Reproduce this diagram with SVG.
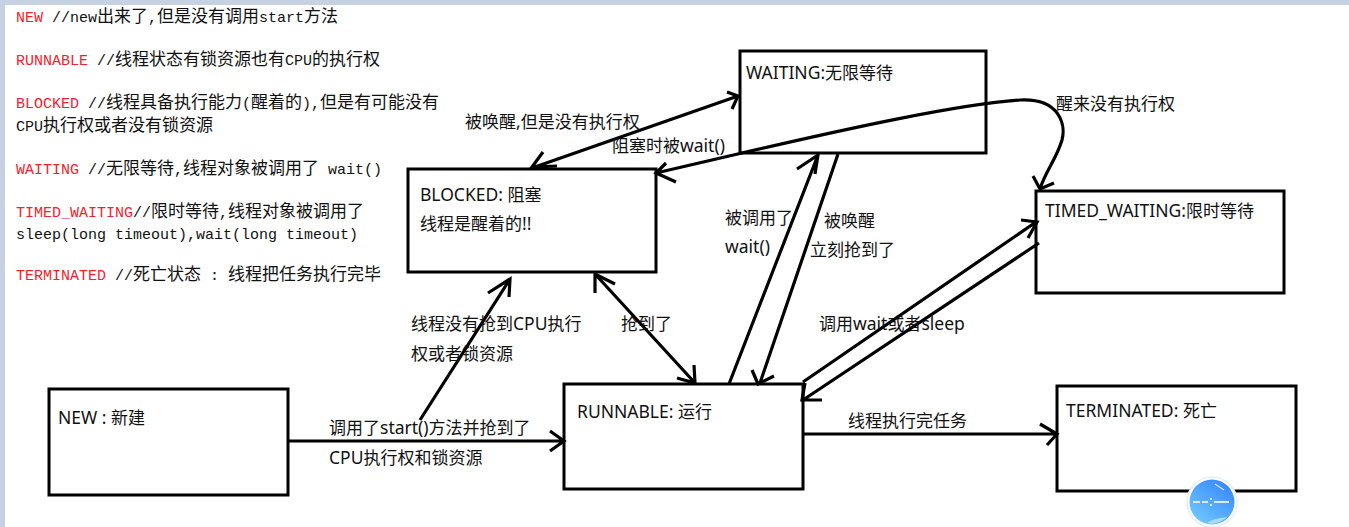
<svg xmlns="http://www.w3.org/2000/svg" width="1349" height="527" viewBox="0 0 1349 527">
<style>
.box{fill:#fff;stroke:#000;stroke-width:3}
.ln{fill:none;stroke:#000;stroke-width:3.2}
.code{font-family:"Liberation Mono","Noto Sans CJK SC",monospace;font-size:15px;fill:#111}
.code .r{fill:#f5222d}
.code .c{font-family:"Noto Sans CJK SC","Liberation Sans",sans-serif;font-size:17px}
.lbl{font-family:"Noto Sans CJK SC","Noto Sans",sans-serif;font-size:17px;fill:#111}
.lbl .l{font-family:"Noto Sans",sans-serif;font-size:17.5px}
</style>
<defs>
<linearGradient id="g" x1="0.8" y1="0.1" x2="0.2" y2="0.9"><stop offset="0" stop-color="#3a8cff"/><stop offset="1" stop-color="#6cc4ff"/></linearGradient>
</defs>
<rect width="1349" height="527" fill="#fff"/>
<rect width="1349" height="5" fill="#c6d2e4"/>
<rect width="5" height="527" fill="#c6d2e4"/>

<g id="notes" class="code">
<text y="22" x="16"><tspan class="r">NEW</tspan> //new<tspan class="c">出来了</tspan>,<tspan class="c">但是没有调用</tspan>start<tspan class="c">方法</tspan></text>
<text y="65" x="16"><tspan class="r">RUNNABLE</tspan> //<tspan class="c">线程状态有锁资源也有</tspan>CPU<tspan class="c">的执行权</tspan></text>
<text y="108" x="16"><tspan class="r">BLOCKED</tspan> //<tspan class="c">线程具备执行能力</tspan>(<tspan class="c">醒着的</tspan>),<tspan class="c">但是有可能没有</tspan></text>
<text y="131" x="16">CPU<tspan class="c">执行权或者没有锁资源</tspan></text>
<text y="174" x="16"><tspan class="r">WAITING</tspan> //<tspan class="c">无限等待</tspan>,<tspan class="c">线程对象被调用了</tspan> wait()</text>
<text y="217" x="16"><tspan class="r">TIMED_WAITING</tspan>//<tspan class="c">限时等待</tspan>,<tspan class="c">线程对象被调用了</tspan></text>
<text y="239" x="16">sleep(long timeout),wait(long timeout)</text>
<text y="280" x="16"><tspan class="r">TERMINATED</tspan> //<tspan class="c">死亡状态</tspan> : <tspan class="c">线程把任务执行完毕</tspan></text>
</g>

<g id="node-waiting"><rect class="box" x="740" y="51" width="246" height="102"/><text class="lbl" x="746" y="79"><tspan class="l">WAITING:</tspan>无限等待</text></g>
<g id="node-blocked"><rect class="box" x="408" y="169" width="248" height="103"/><text class="lbl" x="420" y="201"><tspan class="l">BLOCKED: </tspan>阻塞</text><text class="lbl" x="420" y="230">线程是醒着的<tspan class="l">!!</tspan></text></g>
<g id="node-timed"><rect class="box" x="1036" y="191" width="248" height="102"/><text class="lbl" x="1045" y="217"><tspan class="l">TIMED_WAITING:</tspan>限时等待</text></g>
<g id="node-new"><rect class="box" x="49" y="389" width="239" height="106"/><text class="lbl" x="58" y="424"><tspan class="l">NEW : </tspan>新建</text></g>
<g id="node-runnable"><rect class="box" x="564" y="384" width="239" height="105"/><text class="lbl" x="577" y="418"><tspan class="l">RUNNABLE: </tspan>运行</text></g>
<g id="node-terminated"><rect class="box" x="1057" y="386" width="239" height="105"/><text class="lbl" x="1066" y="417"><tspan class="l">TERMINATED: </tspan>死亡</text></g>

<g id="connectors">
<path class="ln" d="M288,441H563M550,431L564,441L550,451"/>
<path class="ln" d="M420,420L510,279M488,293L510,279L509,297"/>
<path class="ln" d="M595,274L695,383M595,293L595,274L615,284M677,378L695,383L694,365"/>
<path class="ln" d="M532,168L738,96M543,152L532,167L557,166M727,92L738,96L732,109"/>
<path class="ln" d="M656,173L742,153C850,128 960,104 1020,100C1060,98 1066,125 1062,140C1056,160 1046,170 1040,189M666,163L656,173L676,182M1033,176L1040,189L1054,183"/>
<path class="ln" d="M729,384L818,155M797,169L818,155L815,174"/>
<path class="ln" d="M838,154L760,383M752,370L758,384L774,376"/>
<path class="ln" d="M803,382L1036,222M1021,220L1037,222L1028,238"/>
<path class="ln" d="M1039,243L803,400M805,383L802,400L822,400"/>
<path class="ln" d="M803,434H1056M1040,424L1057,434L1047,445"/>
</g>

<g id="labels">
<text class="lbl" x="465" y="128">被唤醒<tspan class="l">,</tspan>但是没有执行权</text>
<text class="lbl" x="612" y="152">阻塞时被<tspan class="l">wait()</tspan></text>
<text class="lbl" x="1056" y="110">醒来没有执行权</text>
<text class="lbl" x="725" y="224">被调用了</text>
<text class="lbl" x="725" y="253"><tspan class="l">wait()</tspan></text>
<text class="lbl" x="824" y="227">被唤醒</text>
<text class="lbl" x="810" y="256">立刻抢到了</text>
<text class="lbl" x="411" y="330">线程没有抢到<tspan class="l">CPU</tspan>执行</text>
<text class="lbl" x="411" y="360">权或者锁资源</text>
<text class="lbl" x="621" y="330">抢到了</text>
<text class="lbl" x="819" y="330">调用<tspan class="l">wait</tspan>或者<tspan class="l">sleep</tspan></text>
<text class="lbl" x="329" y="434">调用了<tspan class="l">start()</tspan>方法并抢到了</text>
<text class="lbl" x="329" y="464"><tspan class="l">CPU</tspan>执行权和锁资源</text>
<text class="lbl" x="848" y="427">线程执行完任务</text>
</g>

<g id="badge">
<circle cx="1212" cy="502" r="25" fill="#fff" stroke="#e3eef8" stroke-width="1.5"/>
<circle cx="1212" cy="502" r="22.5" fill="url(#g)"/>
<path d="M1207,523C1214,518 1222,518 1227,517C1222,522 1214,525 1207,523Z" fill="#a8dcff"/>
<path d="M1193,502H1200M1202,502H1208M1214,502H1229" stroke="#dce9fb" stroke-width="2" fill="none"/>
<path d="M1215,484L1224,490" stroke="#dce9fb" stroke-width="1.2" fill="none"/>
<circle cx="1211" cy="499" r="0.9" fill="#fff"/><circle cx="1211" cy="505" r="0.9" fill="#fff"/>
</g>
</svg>
